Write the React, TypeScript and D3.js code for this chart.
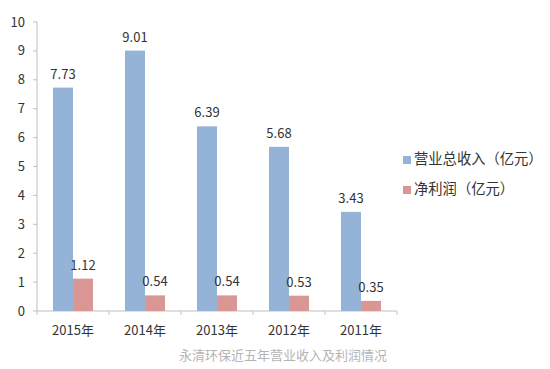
import React from 'react';
import * as d3 from 'd3';

const years = ['2015年', '2014年', '2013年', '2012年', '2011年'];
const revenue = [7.73, 9.01, 6.39, 5.68, 3.43];
const profit = [1.12, 0.54, 0.54, 0.53, 0.35];
const yTicks = [0, 1, 2, 3, 4, 5, 6, 7, 8, 9, 10];
const seriesNames = ['营业总收入（亿元）', '净利润（亿元）'];
const colors = ['#95B3D7', '#D99694'];
const caption = '永清环保近五年营业收入及利润情况';

const font = '"Noto Sans CJK SC", "DejaVu Sans", sans-serif';

export default function App() {
  const left = 37;
  const right = 397;
  const top = 22;
  const bottom = 311;

  const x = d3.scaleBand().domain(years).range([left, right]);
  const y = d3.scaleLinear().domain([0, 10]).range([bottom, top]);
  const barW = 20;
  const series = [revenue, profit];

  return (
    <svg width={550} height={369} style={{position: 'absolute', left: 0, top: 0}}>
      <rect width={550} height={369} fill="#fff" />
      {/* y axis */}
      <line x1={left} x2={left} y1={top} y2={bottom} stroke="#bfbfbf" />
      {yTicks.map(t => (
        <g key={t}>
          <line x1={left - 4} x2={left} y1={y(t)} y2={y(t)} stroke="#bfbfbf" />
          <text x={left - 12} y={y(t)} dy="0.35em" textAnchor="end" fontSize={13}
            fontFamily={font} fill="#333">{t}</text>
        </g>
      ))}
      {/* x axis */}
      <line x1={left} x2={right} y1={bottom} y2={bottom} stroke="#bfbfbf" />
      {years.map(c => (
        <line key={c} x1={x(c)!} x2={x(c)!} y1={bottom} y2={bottom + 4} stroke="#bfbfbf" />
      ))}
      <line x1={right} x2={right} y1={bottom} y2={bottom + 4} stroke="#bfbfbf" />
      {years.map(c => (
        <text key={c} x={x(c)! + x.bandwidth() / 2} y={bottom + 24} textAnchor="middle"
          fontSize={13} fontFamily={font} fill="#333">{c}</text>
      ))}
      {/* bars */}
      {series.map((vals, s) =>
        vals.map((v, i) => {
          const cx = x(years[i])! + x.bandwidth() / 2;
          const bx = cx - barW + s * barW;
          return (
            <g key={`${s}-${i}`}>
              <rect x={bx} y={y(v)} width={barW} height={bottom - y(v)} fill={colors[s]} />
              <text x={bx + barW / 2} y={y(v) - 9} textAnchor="middle" fontSize={13}
                fontFamily={font} fill="#333">{v.toFixed(2)}</text>
            </g>
          );
        })
      )}
      {/* legend */}
      {seriesNames.map((n, i) => (
        <g key={n} transform={`translate(403, ${159 + i * 30})`}>
          <rect x={0} y={-3} width={8} height={8} fill={colors[i]} />
          <text x={11} y={0} dy="0.35em" fontSize={14.3} fontFamily={font} fill="#333">{n}</text>
        </g>
      ))}
      <text x={283} y={355} dy="0.35em" textAnchor="middle" fontSize={13} fontFamily={font}
        fill="#b4b4b4">{caption}</text>
    </svg>
  );
}
